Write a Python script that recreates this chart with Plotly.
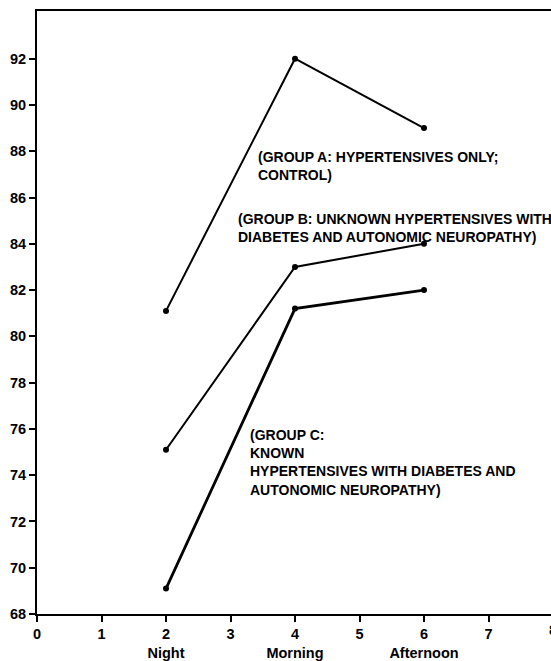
import plotly.graph_objects as go

# Data
x_vals = [2, 4, 6]
group_a = [81.1, 92.0, 89.0]
group_b = [75.1, 83.0, 84.0]
group_c = [69.1, 81.2, 82.0]

x_ticks = [0, 1, 2, 3, 4, 5, 6, 7]
x_ticktext = ["0", "1", "2<br>Night", "3", "4<br>Morning", "5", "6<br>Afternoon", "7"]
y_ticks = [68, 70, 72, 74, 76, 78, 80, 82, 84, 86, 88, 90, 92]

label_a = "(GROUP A: HYPERTENSIVES ONLY;<br>CONTROL)"
label_b = "(GROUP B: UNKNOWN HYPERTENSIVES WITH<br>DIABETES AND AUTONOMIC NEUROPATHY)"
label_c = "(GROUP C:<br>KNOWN<br>HYPERTENSIVES WITH DIABETES AND<br>AUTONOMIC NEUROPATHY)"

FONT = "Liberation Sans, Arial, sans-serif"

fig = go.Figure()
for vals, w in [(group_a, 2), (group_b, 2), (group_c, 2.8)]:
    fig.add_trace(go.Scatter(
        x=x_vals, y=vals, mode="lines+markers",
        line=dict(color="black", width=w),
        marker=dict(color="black", size=6),
        showlegend=False, cliponaxis=False,
    ))

ann_font = dict(family=FONT, size=14, color="black", weight="bold")
fig.add_annotation(x=3.40, y=88.2, xref="x", yref="y", text=label_a, showarrow=False,
                   xanchor="left", yanchor="top", align="left", font=ann_font)
fig.add_annotation(x=3.08, y=85.5, xref="x", yref="y", text=label_b, showarrow=False,
                   xanchor="left", yanchor="top", align="left", font=ann_font)
fig.add_annotation(x=3.265, y=76.17, xref="x", yref="y", text=label_c, showarrow=False,
                   xanchor="left", yanchor="top", align="left", font=ann_font)

x_max = 7.969
tick_font = dict(family=FONT, size=14.5, color="black", weight="bold")
# clipped "8" tick label at the right edge
fig.add_annotation(x=8 / x_max, y=0, xref="paper", yref="paper", text="8",
                   showarrow=False, xanchor="center", yanchor="top", yshift=-6,
                   font=tick_font)

fig.update_layout(
    width=551, height=661,
    margin=dict(l=37, r=0, t=11, b=44),
    paper_bgcolor="white", plot_bgcolor="white",
    xaxis=dict(range=[0, x_max], tickvals=x_ticks, ticktext=x_ticktext,
               showgrid=False, zeroline=False, showline=True, linecolor="black",
               linewidth=2, mirror=True, ticks="outside", ticklen=6, tickwidth=1.5,
               tickcolor="black", tickfont=tick_font),
    yaxis=dict(range=[68, 94.06], tickvals=y_ticks,
               showgrid=False, zeroline=False, showline=True, linecolor="black",
               linewidth=2, ticks="outside", ticklen=6, tickwidth=1.5,
               tickcolor="black", tickfont=tick_font),
)

fig.write_html("out.html", config={"displayModeBar": False},
               post_script="document.body.style.margin='0';document.body.style.overflow='hidden';")
